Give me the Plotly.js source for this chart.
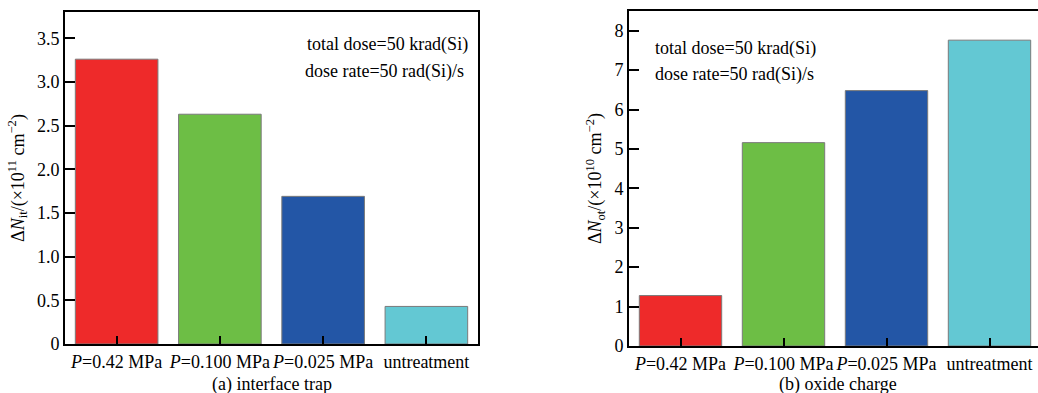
<!DOCTYPE html>
<html>
<head>
<meta charset="utf-8">
<script src="https://cdn.plot.ly/plotly-3.0.1.min.js"></script>
<style>
html,body{margin:0;padding:0;overflow:hidden;background:#fff;width:1038px;height:393px;}
#chart{width:1046px;height:393px;}
</style>
</head>
<body>
<div id="chart"></div>
<script>
var categories = ['<i>P</i>=0.42 MPa', '<i>P</i>=0.100 MPa', '<i>P</i>=0.025 MPa', 'untreatment'];
var interfaceTrap = [3.26, 2.63, 1.69, 0.43];
var oxideCharge = [1.28, 5.16, 6.48, 7.76];
var barColors = ['#EE2A2A', '#6DBE45', '#2356A6', '#63C8D3'];
var yTicksA = [0, 0.5, 1.0, 1.5, 2.0, 2.5, 3.0, 3.5];
var yTickTextA = ['0', '0.5', '1.0', '1.5', '2.0', '2.5', '3.0', '3.5'];
var yTicksB = [0, 1, 2, 3, 4, 5, 6, 7, 8];

var W = 1046, H = 393;
var FONT = 'Liberation Serif, Tinos, Times New Roman, Times, DejaVu Serif, serif';

var traces = [
  {type:'bar', x:categories, y:interfaceTrap, xaxis:'x', yaxis:'y', width:0.8,
   marker:{color:barColors, line:{color:'#7a7a7a', width:1}}, hoverinfo:'none'},
  {type:'bar', x:categories, y:oxideCharge, xaxis:'x2', yaxis:'y2', width:0.8,
   marker:{color:barColors, line:{color:'#7a7a7a', width:1}}, hoverinfo:'none'}
];

var axX = {
  type:'category', range:[-0.5, 3.5], showline:true, mirror:true, linecolor:'#000', linewidth:2,
  ticks:'inside', ticklen:8, tickwidth:2, tickcolor:'#000', showgrid:false, zeroline:false,
  tickangle:0, tickfont:{family:FONT, size:18, color:'#000'}, fixedrange:true
};
var axY = {
  showline:true, mirror:true, linecolor:'#000', linewidth:2,
  ticks:'inside', ticklen:10, tickwidth:2, tickcolor:'#000', showgrid:false, zeroline:false,
  tickfont:{family:FONT, size:18, color:'#000'}, fixedrange:true
};

var layout = {
  width:W, height:H, margin:{l:0, r:0, t:0, b:0},
  paper_bgcolor:'#fff', plot_bgcolor:'#fff', showlegend:false,
  font:{family:FONT, color:'#000'},
  xaxis: Object.assign({}, axX, {domain:[65/W, 478/W], anchor:'y'}),
  yaxis: Object.assign({}, axY, {domain:[1-344/H, 1-12/H], anchor:'x', range:[0, 3.8],
    tickvals:yTicksA, ticktext:yTickTextA,
    title:{text:'Δ<i>N</i><sub>it</sub>/(×10<sup>11</sup> cm<sup>−2</sup>)', font:{family:FONT, size:18, color:'#000'}, standoff:8}}),
  xaxis2: Object.assign({}, axX, {domain:[629/W, 1041/W], anchor:'y2'}),
  yaxis2: Object.assign({}, axY, {domain:[1-346/H, 1-11/H], anchor:'x2', range:[0, 8.5],
    tickvals:yTicksB,
    title:{text:'Δ<i>N</i><sub>ot</sub>/(×10<sup>10</sup> cm<sup>−2</sup>)', font:{family:FONT, size:18, color:'#000'}, standoff:8}}),
  annotations:[
    {xref:'paper', yref:'paper', x:470/W, y:1-45/H, xanchor:'right', yanchor:'middle', showarrow:false,
     text:'total dose=50 krad(Si)', font:{family:FONT, size:18, color:'#000'}},
    {xref:'paper', yref:'paper', x:303/W, y:1-71/H, xanchor:'left', yanchor:'middle', showarrow:false,
     text:'dose rate=50 rad(Si)/s', font:{family:FONT, size:18, color:'#000'}},
    {xref:'paper', yref:'paper', x:653/W, y:1-49/H, xanchor:'left', yanchor:'middle', showarrow:false,
     text:'total dose=50 krad(Si)', font:{family:FONT, size:18, color:'#000'}},
    {xref:'paper', yref:'paper', x:653/W, y:1-74/H, xanchor:'left', yanchor:'middle', showarrow:false,
     text:'dose rate=50 rad(Si)/s', font:{family:FONT, size:18, color:'#000'}},
    {xref:'paper', yref:'paper', x:272/W, y:1-384/H, xanchor:'center', yanchor:'middle', showarrow:false,
     text:'(a) interface trap', font:{family:FONT, size:18, color:'#000'}},
    {xref:'paper', yref:'paper', x:838/W, y:1-384/H, xanchor:'center', yanchor:'middle', showarrow:false,
     text:'(b) oxide charge', font:{family:FONT, size:18, color:'#000'}}
  ]
};

Plotly.newPlot('chart', traces, layout, {displayModeBar:false, staticPlot:true});
</script>
</body>
</html>
